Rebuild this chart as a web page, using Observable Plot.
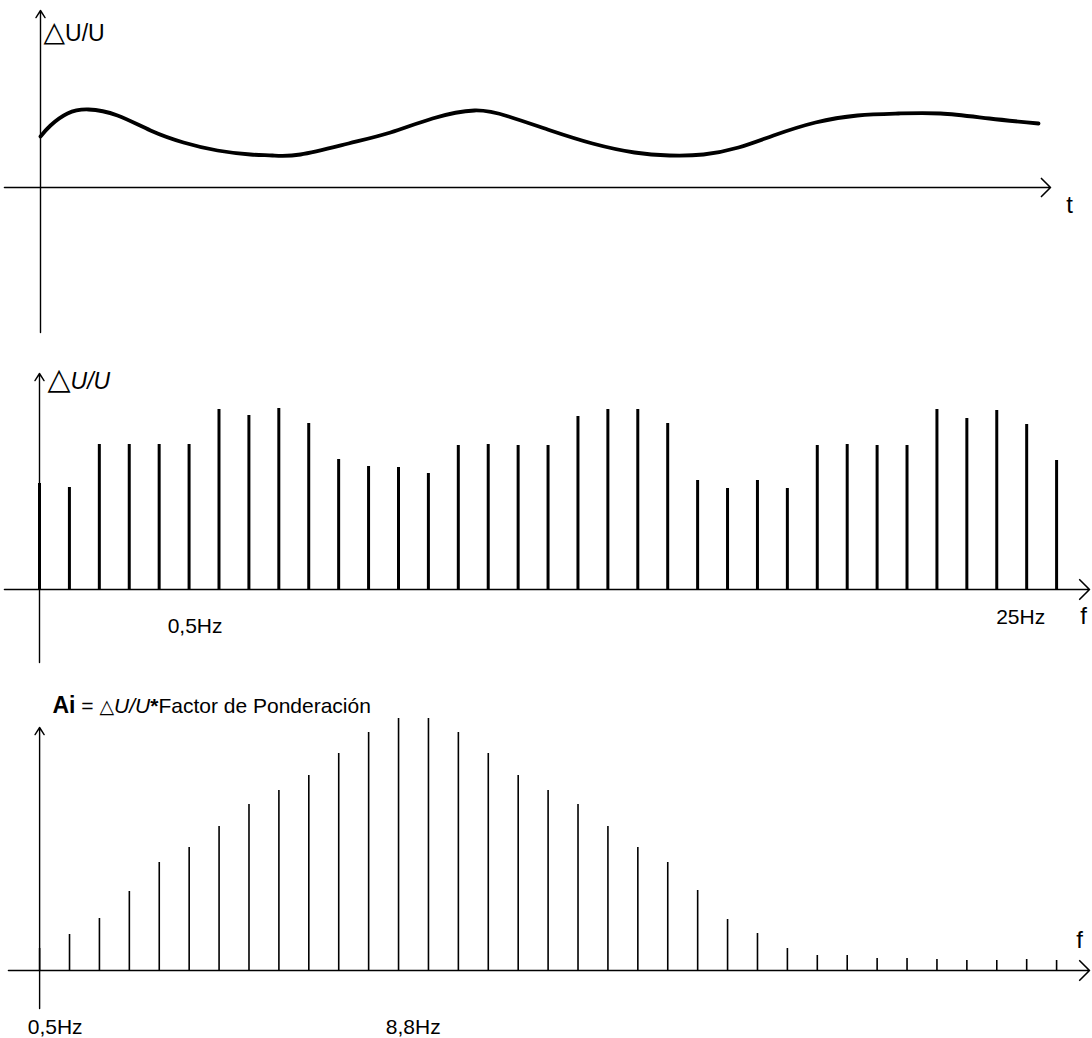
<!DOCTYPE html>
<html><head><meta charset="utf-8">
<script src="https://cdn.jsdelivr.net/npm/d3@7"></script>
<script src="https://cdn.jsdelivr.net/npm/@observablehq/plot@0.6"></script>
<style>
body{margin:0;background:#fff;}
#chart{width:1092px;}
#chart svg{display:block;overflow:visible;}
</style></head><body><div id="chart"></div>
<script>
// ---------- Panel 1: ΔU/U over time ----------
const timeT  = [0, 0.1, 0.27, 0.48, 0.77, 1.1, 1.43, 1.77, 2.1, 2.32, 2.6, 3.08, 3.5, 3.92, 4.34, 4.68, 5.1, 5.52, 5.94, 6.29, 6.63, 6.98, 7.33, 7.75, 8.17, 8.58, 9.0, 9.49, 9.98];
const timeDU = [0.51, 0.62, 0.74, 0.78, 0.72, 0.57, 0.45, 0.37, 0.33, 0.32, 0.33, 0.44, 0.55, 0.69, 0.77, 0.71, 0.57, 0.44, 0.35, 0.32, 0.33, 0.40, 0.52, 0.65, 0.72, 0.74, 0.74, 0.69, 0.64];
const tDomain = [-0.36, 10.1];
const duDomain1 = [-1.45, 1.77];
const label1 = "△U/U";
const axisName1 = ["t"];
const axisNamePos1 = [10.29];

// ---------- Panel 2: ΔU/U spectrum ----------
const harmonic = d3.range(35);
const spectrum = [1.06, 1.02, 1.45, 1.45, 1.45, 1.45, 1.80, 1.74, 1.81, 1.66, 1.30, 1.23, 1.22, 1.16, 1.44, 1.45, 1.44, 1.44, 1.73, 1.80, 1.80, 1.66, 1.09, 1.01, 1.09, 1.01, 1.44, 1.45, 1.44, 1.44, 1.80, 1.71, 1.79, 1.65, 1.29];
const fDomain2 = [-1.17, 35.1];
const duDomain2 = [-0.73, 2.16];
const label2 = "△U/U";
const ticks2a = ["0,5Hz"], ticks2aPos = [5.2];
const ticks2b = ["25Hz"], ticks2bPos = [32.8];
const axisName2 = ["f"], axisName2Pos = [34.9];

// ---------- Panel 3: weighted spectrum ----------
const weighted = [0.22, 0.36, 0.52, 0.79, 1.08, 1.23, 1.44, 1.66, 1.80, 1.95, 2.17, 2.38, 2.52, 2.52, 2.38, 2.17, 1.95, 1.80, 1.66, 1.44, 1.23, 1.08, 0.80, 0.51, 0.37, 0.22, 0.15, 0.15, 0.12, 0.12, 0.11, 0.10, 0.10, 0.11, 0.10];
const fDomain3 = [-1.04, 35.1];
const aiDomain3 = [-0.38, 2.43];
const label3 = "Ai = △U/U*Factor de Ponderación";
const ticks3 = ["0,5Hz", "8,8Hz"], ticks3Pos = [0.52, 12.49];
const axisName3 = ["f"], axisName3Pos = [34.77];

const FONT = "'Liberation Sans', Arial, Helvetica, sans-serif";
const baseStyle = {fontFamily: FONT, fontSize: "21px", color: "black", background: "white", overflow: "visible"};

function axes(xd, yd, xHead, yHead) {
  return [
    Plot.arrow([0], {x1: xd[0], x2: xd[1], y1: 0, y2: 0, stroke: "black", strokeWidth: 1.6, headLength: xHead, headAngle: 90}),
    Plot.arrow([0], {x1: 0, x2: 0, y1: yd[0], y2: yd[1], stroke: "black", strokeWidth: 1.4, headLength: yHead, headAngle: 65})
  ];
}

const p1 = Plot.plot({
  width: 1092, height: 340,
  marginLeft: 4, marginRight: 42, marginTop: 10, marginBottom: 8,
  style: baseStyle,
  x: {domain: tDomain, axis: null},
  y: {domain: duDomain1, axis: null},
  marks: [
    ...axes(tDomain, duDomain1, 12, 9),
    Plot.line(timeT.map((t, i) => ({t, v: timeDU[i]})), {x: "t", y: "v", curve: "natural", stroke: "black", strokeWidth: 3.8}),
    Plot.text([label1], {frameAnchor: "top-left", textAnchor: "start", lineAnchor: "bottom", dx: 39, dy: 30, fill: "black"}),
    Plot.text(axisName1, {x: axisNamePos1, y: 0, dy: 25, lineAnchor: "bottom", fontSize: 24, fill: "black"})
  ]
});

const p2 = Plot.plot({
  width: 1092, height: 330,
  marginLeft: 4, marginRight: 3, marginTop: 33, marginBottom: 8,
  style: baseStyle,
  x: {domain: fDomain2, axis: null},
  y: {domain: duDomain2, axis: null},
  marks: [
    ...axes(fDomain2, duDomain2, 13, 9),
    Plot.ruleX(harmonic, {x: d => d, y1: 0, y2: (d, i) => spectrum[i], stroke: "black", strokeWidth: 3}),
    Plot.text([label2], {frameAnchor: "top-left", textAnchor: "start", lineAnchor: "bottom", dx: 43, dy: 15, fill: "black"}),
    Plot.text(ticks2a, {x: ticks2aPos, y: 0, dy: 43, lineAnchor: "bottom", fill: "black"}),
    Plot.text(ticks2b, {x: ticks2bPos, y: 0, dy: 34, lineAnchor: "bottom", fill: "black"}),
    Plot.text(axisName2, {x: axisName2Pos, y: 0, dy: 34, lineAnchor: "bottom", fontSize: 24, fill: "black"})
  ]
});

const p3 = Plot.plot({
  width: 1092, height: 368,
  marginLeft: 8, marginRight: 3, marginTop: 57, marginBottom: 30,
  style: baseStyle,
  x: {domain: fDomain3, axis: null},
  y: {domain: aiDomain3, axis: null},
  marks: [
    ...axes(fDomain3, aiDomain3, 13, 9),
    Plot.ruleX(harmonic, {x: d => d, y1: 0, y2: (d, i) => weighted[i], stroke: "black", strokeWidth: 1.6}),
    Plot.text([label3], {frameAnchor: "top-left", textAnchor: "start", lineAnchor: "bottom", dx: 44, dy: -15, fill: "black"}),
    Plot.text(ticks3, {x: ticks3Pos, y: 0, dy: 63, lineAnchor: "bottom", fill: "black"}),
    Plot.text(axisName3, {x: axisName3Pos, y: 0, dy: -23, lineAnchor: "bottom", fontSize: 24, fill: "black"})
  ]
});

const chart = document.getElementById("chart");
[p1, p2, p3].forEach(p => chart.appendChild(p));

// rich text styling for the axis titles
function rich(svg, content, parts) {
  d3.select(svg).selectAll("text").filter(function() { return this.textContent === content; })
    .each(function() {
      const t = d3.select(this);
      t.text(null);
      parts.forEach(p => {
        const s = t.append("tspan").text(p.text);
        if (p.size) s.attr("font-size", p.size);
        if (p.weight) s.attr("font-weight", p.weight);
        if (p.style) s.attr("font-style", p.style);
        if (p.family) s.attr("font-family", p.family);
      });
    });
}
rich(p1, label1, [{text: "△", size: 28, family: "'DejaVu Sans', sans-serif"}, {text: "U/U", size: 23}]);
rich(p2, label2, [{text: "△", size: 30, family: "'DejaVu Sans', sans-serif"}, {text: "U/U", size: 23, style: "italic"}]);
rich(p3, label3, [
  {text: "Ai", weight: "bold", size: 23},
  {text: " = "},
  {text: "△", size: 19, family: "'DejaVu Sans', sans-serif"},
  {text: "U/U", style: "italic"},
  {text: "*", weight: "bold"},
  {text: "Factor de Ponderación"}
]);
</script>
</body></html>
